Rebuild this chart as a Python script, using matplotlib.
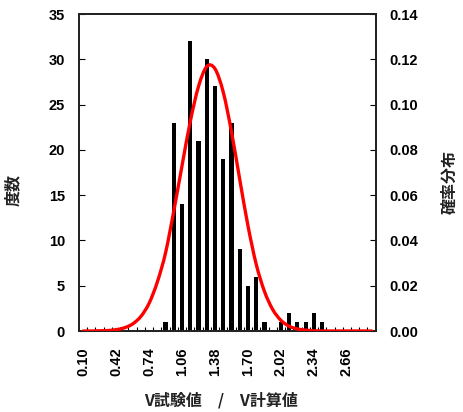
import matplotlib
matplotlib.use("Agg")
import matplotlib.pyplot as plt
from matplotlib.path import Path
from matplotlib.patches import PathPatch
import numpy as np

# bin labels (V試験値 / V計算値), step 0.08
bins = [f"{0.10 + 0.08 * i:.2f}" for i in range(36)]

# frequency per bin
counts = [0, 0, 0, 0, 0, 0, 0, 0, 0, 0,
          1, 23, 14, 32, 21, 30, 27, 19, 23, 9,
          5, 6, 1, 0, 1, 2, 1, 1, 2, 1,
          0, 0, 0, 0, 0, 0]

# probability distribution
prob = [0.0000, 0.0000, 0.0001, 0.0002, 0.0006, 0.0014, 0.0031, 0.0064, 0.0122, 0.0216,
        0.0345, 0.0530, 0.0730, 0.0925, 0.1080, 0.1168, 0.1158, 0.1055, 0.0880, 0.0670,
        0.0465, 0.0295, 0.0175, 0.0095, 0.0047, 0.0021, 0.0009, 0.0004, 0.0001, 0.0000,
        0.0000, 0.0000, 0.0000, 0.0000, 0.0000, 0.0000]

label_font = ["Liberation Sans", "DejaVu Sans"]
jp_font = ["Noto Sans CJK JP", "DejaVu Sans"]


def smooth_path(xs, ys):
    # Excel-like smoothed line: Catmull-Rom segments as cubic Beziers
    pts = np.column_stack([xs, ys]).astype(float)
    n = len(pts)
    verts = [pts[0]]
    codes = [Path.MOVETO]
    for i in range(n - 1):
        p0 = pts[max(i - 1, 0)]
        p3 = pts[min(i + 2, n - 1)]
        c1 = pts[i] + (pts[i + 1] - p0) / 6
        c2 = pts[i + 1] - (p3 - pts[i]) / 6
        verts += [c1, c2, pts[i + 1]]
        codes += [Path.CURVE4] * 3
    return Path(verts, codes)


fig = plt.figure(figsize=(4.63, 4.12), dpi=100)
ax = fig.add_axes([0.1706, 0.1966, 0.6409, 0.7694])
ax2 = ax.twinx()

x = np.arange(len(bins))
ax.bar(x, counts, width=0.5, color="black", zorder=2)
ax2.add_patch(PathPatch(smooth_path(x, prob), facecolor="none", edgecolor="#ff0000",
                        lw=2.4, capstyle="round", zorder=3))

ax.set_xlim(-0.5, len(bins) - 0.5)
ax.set_ylim(0, 35)
ax.set_yticks(range(0, 36, 5))
ax2.set_ylim(0, 0.14)
ax2.set_yticks(np.arange(0, 0.141, 0.02))
ax2.set_yticklabels([f"{v:.2f}" for v in np.arange(0, 0.141, 0.02)])

ax.set_xticks(x[::4])
ax.set_xticklabels(bins[::4], rotation=90)
ax.set_xticks(np.arange(0.5, len(bins) - 0.5, 1), minor=True)
ax.tick_params(axis="x", which="major", length=0, pad=12)
ax.tick_params(axis="x", which="minor", direction="in", length=3, width=0.8)
ax.tick_params(axis="y", direction="in", length=4, width=0.8, pad=10)
ax2.tick_params(axis="y", direction="in", length=4, width=0.8, pad=10)

for t in ax.get_xticklabels() + ax.get_yticklabels() + ax2.get_yticklabels():
    t.set_fontfamily(label_font)
    t.set_fontweight("bold")
    t.set_fontsize(10.5)

for a in (ax, ax2):
    for s in a.spines.values():
        s.set_linewidth(1.3)
        s.set_color("#222222")
ax2.set_zorder(ax.get_zorder() + 1)
ax2.patch.set_visible(False)

fig.text(221 / 463, 1 - 400 / 412, "V試験値　/　V計算値", ha="center", va="center",
         family=jp_font, fontsize=11.5, fontweight="bold", color="#222222")
fig.text(13 / 463, 1 - 190 / 412, "度数", ha="center", va="center", rotation=90,
         family=jp_font, fontsize=11.5, fontweight="bold", color="#222222")
fig.text(450 / 463, 1 - 182 / 412, "確率分布", ha="center", va="center", rotation=90,
         family=jp_font, fontsize=11.5, fontweight="bold", color="#222222")

fig.savefig("out.png", dpi=100)
